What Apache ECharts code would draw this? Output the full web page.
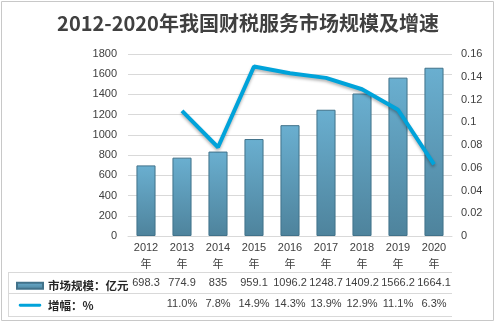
<!DOCTYPE html>
<html><head><meta charset="utf-8">
<script src="https://cdn.jsdelivr.net/npm/echarts@6/dist/echarts.min.js"></script>
<style>html,body{margin:0;padding:0;background:#fff}#c{width:496px;height:323px}</style>
</head><body><div id="c"></div>
<script>
var titleText = '2012-2020年我国财税服务市场规模及增速';
var years = ['2012', '2013', '2014', '2015', '2016', '2017', '2018', '2019', '2020'];
var yearSuffix = '年';
var marketSize = [698.3, 774.9, 835, 959.1, 1096.2, 1248.7, 1409.2, 1566.2, 1664.1];
var growth = [null, 0.110, 0.078, 0.149, 0.143, 0.139, 0.129, 0.111, 0.063];
var sizeName = '市场规模：亿元';
var growthName = '增幅：%';
var leftTicks = {min: 0, max: 1800, interval: 200};
var rightTicks = {min: 0, max: 0.16, interval: 0.02};

var GL = 128, GR = 44, GT = 54, GB = 87;
var W = 496, H = 323;
var axisY = H - GB;
var txt = '#404040';
var ff = '"Liberation Sans", "Noto Sans CJK SC", sans-serif';
var fs = 11;
var gridColor = '#d9d9d9';

var chart = echarts.init(document.getElementById('c'), null, {renderer: 'canvas'});
var rowLines = [272, 293, 316];
var graphics = [
  {type: 'rect', shape: {x: 1.5, y: 1.5, width: W - 4, height: H - 4}, style: {fill: 'none', stroke: '#c8c8c8', lineWidth: 1}, silent: true}
];
rowLines.forEach(function (y) {
  graphics.push({type: 'line', shape: {x1: 8, y1: y + 0.5, x2: W - GR, y2: y + 0.5}, style: {stroke: gridColor, lineWidth: 1}, silent: true});
});
graphics.push({type: 'line', shape: {x1: 8.5, y1: rowLines[0], x2: 8.5, y2: rowLines[2]}, style: {stroke: gridColor, lineWidth: 1}, silent: true});

chart.setOption({
  animation: false,
  title: {text: titleText, left: 'center', top: 8, textStyle: {fontSize: 20, fontWeight: 'bold', color: txt, fontFamily: '"Noto Sans CJK SC", sans-serif'}},
  grid: {left: GL, right: GR, top: GT, bottom: GB},
  legend: {
    orient: 'vertical', left: 11, top: 275, itemGap: 8, itemWidth: 26, itemHeight: 6, itemTextGap: 4,
    textStyle: {fontSize: 11.5, color: '#262626', fontFamily: '"Noto Sans CJK SC", sans-serif', fontWeight: 'bold'},
    data: [{name: sizeName, icon: 'rect'}, {name: growthName, icon: 'path://M0,0M26,7M1.5,1.8H24.5A1.7,1.7,0,0,1,24.5,5.2H1.5A1.7,1.7,0,0,1,1.5,1.8Z'}]
  },
  xAxis: [
    {type: 'category', data: years.map(function (y) { return y + '\n' + yearSuffix; }), boundaryGap: true,
     axisLine: {lineStyle: {color: gridColor}}, axisTick: {length: 316 - axisY, lineStyle: {color: gridColor}, alignWithLabel: false},
     axisLabel: {color: txt, fontSize: fs, fontFamily: ff, lineHeight: 17, margin: 3, interval: 0}},
    {type: 'category', data: marketSize.map(function (v) { return String(v); }), position: 'bottom', offset: 41,
     axisLine: {show: false}, axisTick: {show: false}, axisLabel: {color: txt, fontSize: fs, fontFamily: ff, margin: 0, interval: 0, hideOverlap: false}},
    {type: 'category', data: growth.map(function (v) { return v == null ? '' : (v * 100).toFixed(1) + '%'; }), position: 'bottom', offset: 62,
     axisLine: {show: false}, axisTick: {show: false}, axisLabel: {color: txt, fontSize: fs, fontFamily: ff, margin: 0, interval: 0, hideOverlap: false}}
  ],
  yAxis: [
    {type: 'value', min: leftTicks.min, max: leftTicks.max, interval: leftTicks.interval,
     axisLine: {show: false}, axisTick: {show: false}, splitLine: {lineStyle: {color: gridColor}},
     axisLabel: {color: txt, fontSize: fs, fontFamily: ff, margin: 11, formatter: function (v) { return String(v); }}},
    {type: 'value', min: rightTicks.min, max: rightTicks.max, interval: rightTicks.interval, position: 'right',
     axisLine: {show: false}, axisTick: {show: false}, splitLine: {show: false},
     axisLabel: {color: txt, fontSize: fs, fontFamily: ff, margin: 9, formatter: function (v) { return String(+v.toFixed(2)); }}}
  ],
  series: [
    {name: sizeName, type: 'bar', data: marketSize, xAxisIndex: 0, yAxisIndex: 0, barWidth: '53%',
     itemStyle: {color: new echarts.graphic.LinearGradient(0, 0, 0, 1, [{offset: 0, color: '#6aafd0'}, {offset: 1, color: '#4e839c'}]),
                 borderColor: '#41728a', borderWidth: 1}},
    {name: growthName, type: 'line', data: growth, xAxisIndex: 0, yAxisIndex: 1, symbol: 'none', showSymbol: false, connectNulls: false,
     itemStyle: {color: '#00a3da'},
     lineStyle: {color: '#00a3da', width: 4, shadowColor: 'rgba(0,0,0,0.3)', shadowBlur: 3, shadowOffsetY: 2}}
  ],
  graphic: graphics
});
</script></body></html>
